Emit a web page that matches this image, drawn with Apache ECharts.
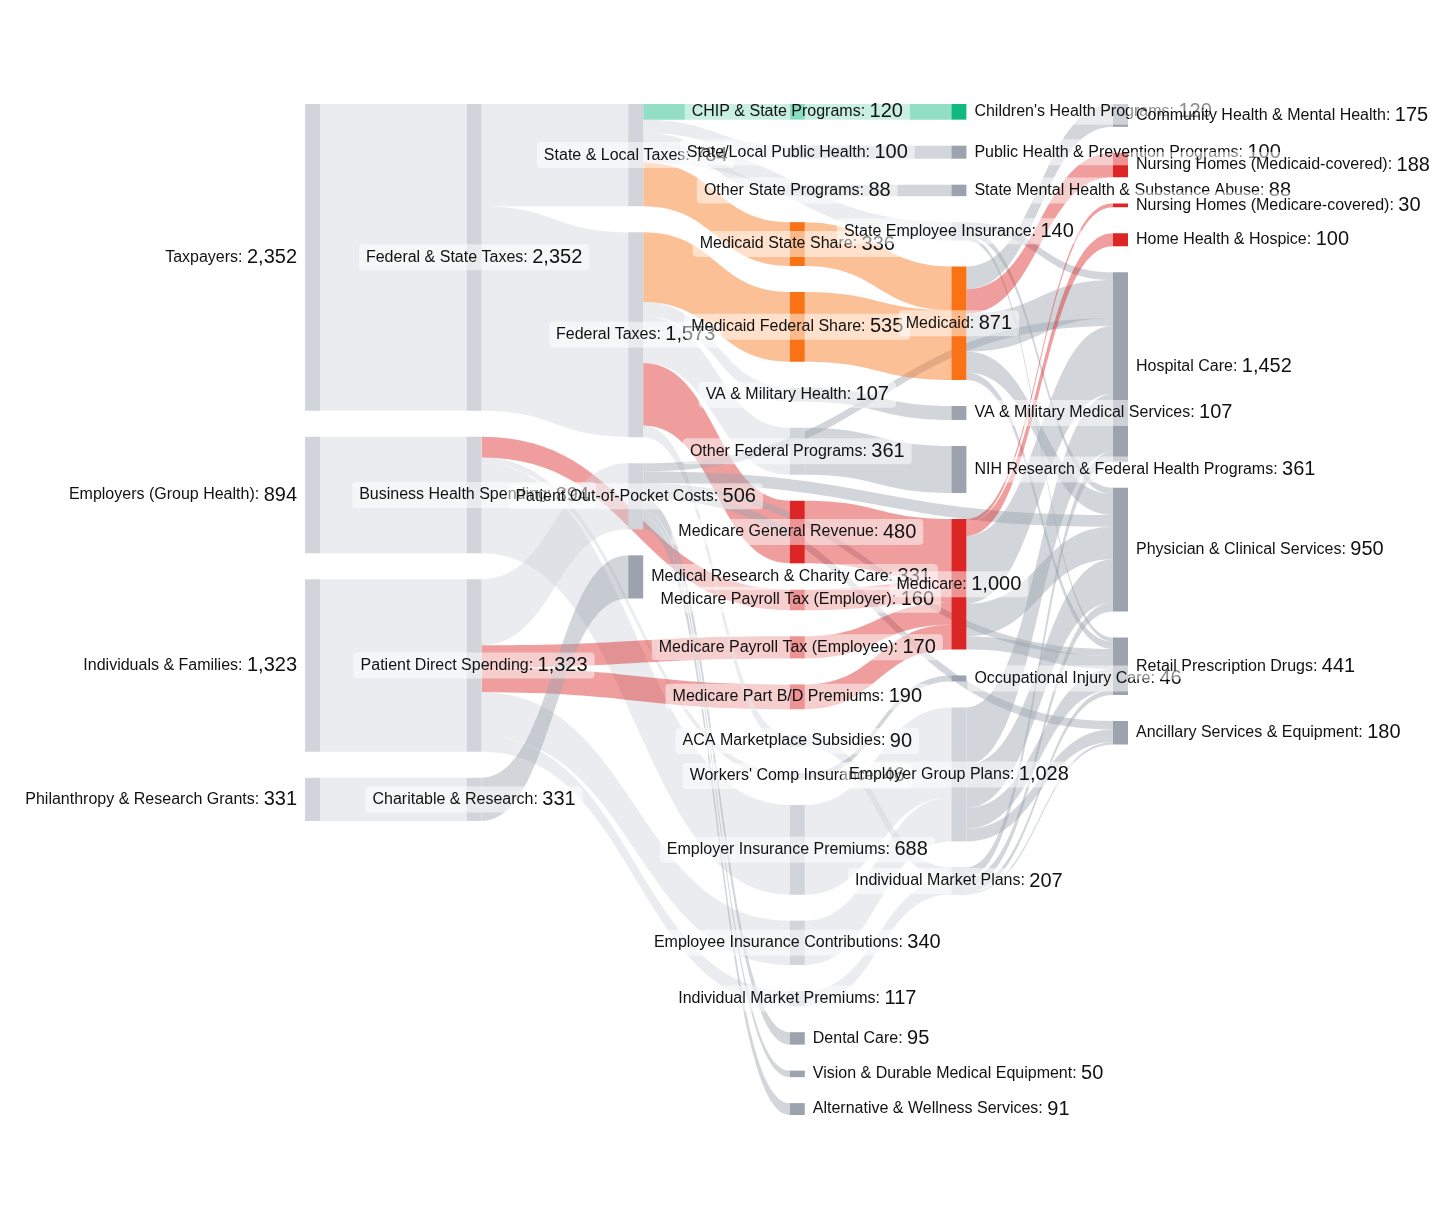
<!DOCTYPE html>
<html>
<head>
<meta charset="utf-8">
<title>Health Spending Flows</title>
<script src="https://cdn.jsdelivr.net/npm/echarts@6/dist/echarts.min.js"></script>
<style>
  html, body { margin: 0; padding: 0; background: #ffffff; }
  #chart { width: 1456px; height: 1214px; }
</style>
</head>
<body>
<div id="chart"></div>
<script>
// ---- data: nodes per column (name + value) ----
const col0Names = ["Taxpayers", "Employers (Group Health)", "Individuals & Families", "Philanthropy & Research Grants"];
const col0Values = [2352, 894, 1323, 331];

const col1Names = ["Federal & State Taxes", "Business Health Spending", "Patient Direct Spending", "Charitable & Research"];
const col1Values = [2352, 894, 1323, 331];

const col2Names = ["State & Local Taxes", "Federal Taxes", "Patient Out-of-Pocket Costs", "Medical Research & Charity Care"];
const col2Values = [784, 1573, 506, 331];

const col3Names = [
  "CHIP & State Programs", "State/Local Public Health", "Other State Programs",
  "Medicaid State Share", "Medicaid Federal Share", "VA & Military Health", "Other Federal Programs",
  "Medicare General Revenue", "Medicare Payroll Tax (Employer)", "Medicare Payroll Tax (Employee)",
  "Medicare Part B/D Premiums", "ACA Marketplace Subsidies", "Workers' Comp Insurance",
  "Employer Insurance Premiums", "Employee Insurance Contributions", "Individual Market Premiums",
  "Dental Care", "Vision & Durable Medical Equipment", "Alternative & Wellness Services"
];
const col3Values = [120, 100, 88, 336, 535, 107, 361, 480, 160, 170, 190, 90, 46, 688, 340, 117, 95, 50, 91];

const col4Names = [
  "Children's Health Programs", "Public Health & Prevention Programs", "State Mental Health & Substance Abuse",
  "State Employee Insurance", "Medicaid", "VA & Military Medical Services",
  "NIH Research & Federal Health Programs", "Medicare", "Occupational Injury Care",
  "Employer Group Plans", "Individual Market Plans"
];
const col4Values = [120, 100, 88, 140, 871, 107, 361, 1000, 46, 1028, 207];

const col5Names = [
  "Community Health & Mental Health", "Nursing Homes (Medicaid-covered)", "Nursing Homes (Medicare-covered)",
  "Home Health & Hospice", "Hospital Care", "Physician & Clinical Services",
  "Retail Prescription Drugs", "Ancillary Services & Equipment"
];
const col5Values = [175, 188, 30, 100, 1452, 950, 441, 180];

// ---- data: links ----
const linkSource = [
  "Taxpayers", "Employers (Group Health)", "Individuals & Families", "Philanthropy & Research Grants",
  "Federal & State Taxes", "Federal & State Taxes",
  "Business Health Spending", "Business Health Spending", "Business Health Spending",
  "Patient Direct Spending", "Patient Direct Spending", "Patient Direct Spending", "Patient Direct Spending", "Patient Direct Spending",
  "Charitable & Research",
  "State & Local Taxes", "State & Local Taxes", "State & Local Taxes", "State & Local Taxes", "State & Local Taxes",
  "Federal Taxes", "Federal Taxes", "Federal Taxes", "Federal Taxes", "Federal Taxes",
  "Patient Out-of-Pocket Costs", "Patient Out-of-Pocket Costs", "Patient Out-of-Pocket Costs", "Patient Out-of-Pocket Costs",
  "Patient Out-of-Pocket Costs", "Patient Out-of-Pocket Costs", "Patient Out-of-Pocket Costs",
  "CHIP & State Programs", "State/Local Public Health", "Other State Programs",
  "Medicaid State Share", "Medicaid Federal Share", "VA & Military Health", "Other Federal Programs",
  "Medicare General Revenue", "Medicare Payroll Tax (Employer)", "Medicare Payroll Tax (Employee)", "Medicare Part B/D Premiums",
  "ACA Marketplace Subsidies", "Workers' Comp Insurance",
  "Employer Insurance Premiums", "Employee Insurance Contributions", "Individual Market Premiums",
  "State Employee Insurance", "State Employee Insurance", "State Employee Insurance",
  "Medicaid", "Medicaid", "Medicaid", "Medicaid", "Medicaid",
  "Medicare", "Medicare", "Medicare", "Medicare", "Medicare",
  "Employer Group Plans", "Employer Group Plans", "Employer Group Plans", "Employer Group Plans",
  "Individual Market Plans", "Individual Market Plans", "Individual Market Plans", "Individual Market Plans"
];
const linkTarget = [
  "Federal & State Taxes", "Business Health Spending", "Patient Direct Spending", "Charitable & Research",
  "State & Local Taxes", "Federal Taxes",
  "Medicare Payroll Tax (Employer)", "Employer Insurance Premiums", "Workers' Comp Insurance",
  "Medicare Payroll Tax (Employee)", "Medicare Part B/D Premiums", "Employee Insurance Contributions", "Individual Market Premiums", "Patient Out-of-Pocket Costs",
  "Medical Research & Charity Care",
  "CHIP & State Programs", "State/Local Public Health", "Other State Programs", "State Employee Insurance", "Medicaid State Share",
  "Medicaid Federal Share", "VA & Military Health", "Other Federal Programs", "Medicare General Revenue", "ACA Marketplace Subsidies",
  "Dental Care", "Vision & Durable Medical Equipment", "Alternative & Wellness Services", "Hospital Care",
  "Physician & Clinical Services", "Retail Prescription Drugs", "Ancillary Services & Equipment",
  "Children's Health Programs", "Public Health & Prevention Programs", "State Mental Health & Substance Abuse",
  "Medicaid", "Medicaid", "VA & Military Medical Services", "NIH Research & Federal Health Programs",
  "Medicare", "Medicare", "Medicare", "Medicare",
  "Individual Market Plans", "Occupational Injury Care",
  "Employer Group Plans", "Employer Group Plans", "Individual Market Plans",
  "Hospital Care", "Physician & Clinical Services", "Retail Prescription Drugs",
  "Community Health & Mental Health", "Nursing Homes (Medicaid-covered)", "Hospital Care", "Physician & Clinical Services", "Retail Prescription Drugs",
  "Nursing Homes (Medicare-covered)", "Home Health & Hospice", "Hospital Care", "Physician & Clinical Services", "Retail Prescription Drugs",
  "Hospital Care", "Physician & Clinical Services", "Retail Prescription Drugs", "Ancillary Services & Equipment",
  "Hospital Care", "Physician & Clinical Services", "Retail Prescription Drugs", "Ancillary Services & Equipment"
];
const linkValues = [
  2352, 894, 1323, 331,
  784, 1568,
  160, 688, 46,
  170, 190, 340, 117, 506,
  331,
  120, 100, 88, 140, 336,
  535, 107, 361, 480, 90,
  95, 50, 91, 62,
  90, 53, 65,
  120, 100, 88,
  336, 535, 107, 361,
  480, 160, 170, 190,
  90, 46,
  688, 340, 117,
  60, 50, 30,
  175, 188, 290, 160, 58,
  30, 100, 520, 250, 100,
  440, 330, 160, 98,
  80, 70, 40, 17
];

// ---- styling ----
const GREEN = "#10b981";
const ORANGE = "#f97316";
const RED = "#dc2626";
const GRAY_MID = "#d1d5db"; // pass-through nodes
const GRAY_END = "#9ca3af"; // end nodes
const FONT = "Helvetica Neue, Liberation Sans, Arial, sans-serif";

const greenNodes = ["CHIP & State Programs", "Children's Health Programs"];
const orangeNodes = ["Medicaid State Share", "Medicaid Federal Share", "Medicaid"];
const redNodes = [
  "Medicare General Revenue", "Medicare Payroll Tax (Employer)", "Medicare Payroll Tax (Employee)",
  "Medicare Part B/D Premiums", "Medicare", "Nursing Homes (Medicaid-covered)",
  "Nursing Homes (Medicare-covered)", "Home Health & Hospice"
];

const columns = [
  [col0Names, col0Values],
  [col1Names, col1Values],
  [col2Names, col2Values],
  [col3Names, col3Values],
  [col4Names, col4Values],
  [col5Names, col5Values],
];

const fmt = (v) => Number(v).toLocaleString("en-US");

const hasOut = new Set(linkSource);
const hasIn = new Set(linkTarget);

const nodeColor = (name) => {
  if (greenNodes.includes(name)) return GREEN;
  if (orangeNodes.includes(name)) return ORANGE;
  if (redNodes.includes(name)) return RED;
  return hasOut.has(name) ? GRAY_MID : GRAY_END;
};

// label: left of the sources, right of the end nodes, centred on the rest
const labelFor = (name) => {
  if (!hasIn.has(name)) return { position: "left", distance: 1 };
  if (!hasOut.has(name)) return { position: "right", distance: 1 };
  return { position: "inside" };
};

const nodes = [];
columns.forEach(([names, values], depth) => {
  names.forEach((name, i) => {
    nodes.push({
      name: name,
      value: values[i],
      depth: depth,
      itemStyle: { color: nodeColor(name) },
      label: labelFor(name),
    });
  });
});

const links = linkSource.map((s, i) => ({
  source: s,
  target: linkTarget[i],
  value: linkValues[i],
}));

const chart = echarts.init(document.getElementById("chart"));

const option = {
  backgroundColor: "#ffffff",
  animation: false,
  series: [
    {
      type: "sankey",
      left: 305,
      right: 328,
      top: 104,
      bottom: 99,
      nodeWidth: 15,
      nodeGap: 26,
      nodeAlign: "left",
      // keep the node order as listed above
      layoutIterations: 0,
      draggable: false,
      emphasis: { disabled: true },
      data: nodes,
      links: links,
      itemStyle: { borderWidth: 0 },
      lineStyle: {
        color: "target",
        opacity: 0.45,
        curveness: 0.5,
      },
      label: {
        show: true,
        color: "#111",
        fontFamily: FONT,
        backgroundColor: "rgba(255,255,255,0.5)",
        borderRadius: 4,
        padding: [3, 7],
        formatter: (params) => `{n|${params.name}: }{v|${fmt(params.value)}}`,
        rich: {
          n: { fontSize: 16, color: "#111", fontFamily: FONT },
          v: { fontSize: 20, color: "#111", fontFamily: FONT },
        },
      },
    },
  ],
};

chart.setOption(option);
</script>
</body>
</html>
